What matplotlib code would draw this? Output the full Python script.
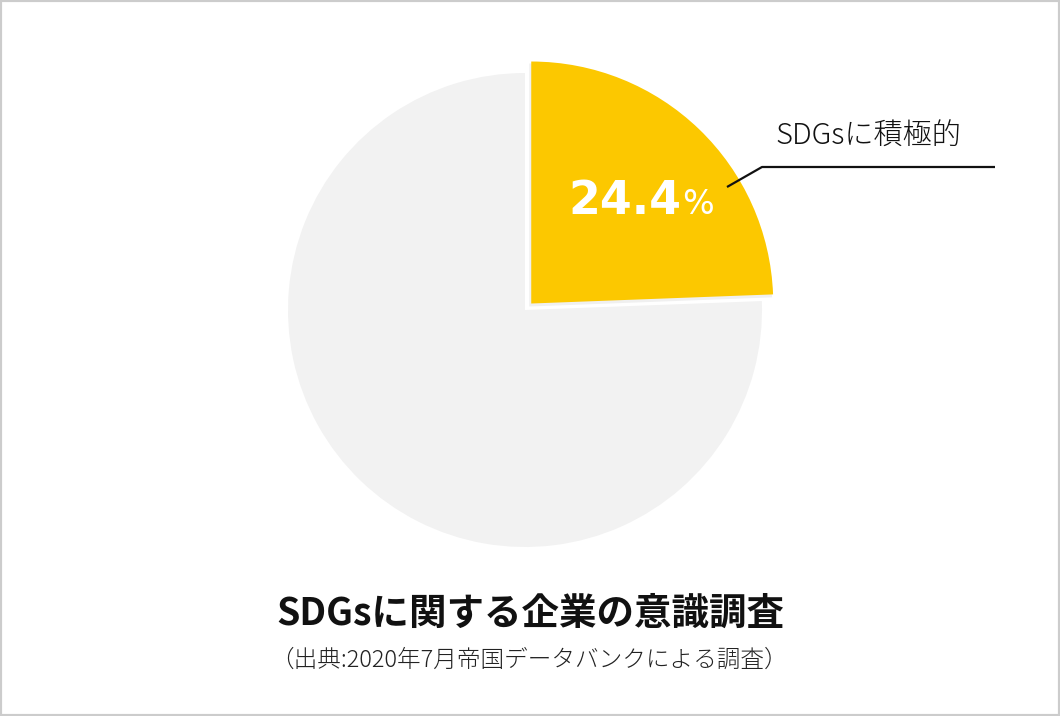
import numpy as np
import matplotlib.pyplot as plt
from matplotlib.patches import Wedge, Rectangle

plt.rcParams['font.family'] = ['Noto Sans CJK JP', 'DejaVu Sans']

# data
labels = ['SDGsに積極的', 'その他']
values = [24.4, 75.6]
colors = ['#FCC800', '#F2F2F2']
title = 'SDGsに関する企業の意識調査'
source = '（出典:2020年7月帝国データバンクによる調査）'

W, H = 1060, 716
fig = plt.figure(figsize=(W / 100, H / 100), dpi=100)
ax = fig.add_axes([0, 0, 1, 1])
ax.set_xlim(0, W)
ax.set_ylim(0, H)
ax.set_aspect('equal')
ax.axis('off')

cx, cy, r = 525, 406, 237
# angles from data, clockwise from 12 o'clock
fracs = np.array(values) / sum(values) * 360
start = 90
angles = []
for f in fracs:
    angles.append((start - f, start))
    start -= f

# big gray slice
t1, t2 = angles[1]
ax.add_patch(Wedge((cx, cy), r, t1, t2, facecolor=colors[1], edgecolor='none'))

# highlighted slice, pulled out a little and slightly larger
t1, t2 = angles[0]
mid = np.deg2rad((t1 + t2) / 2)
off = 9
hx, hy = cx + off * np.cos(mid), cy + off * np.sin(mid)
ax.add_patch(Wedge((hx - 2, hy - 3), 243, t1, t2, facecolor='#E6E6E6', edgecolor='none', alpha=0.6))
ax.add_patch(Wedge((hx, hy), 242, t1, t2, facecolor=colors[0], edgecolor='none'))

# percentage
ax.text(625, 515, f'{values[0]:.1f}', color='white', fontsize=33, fontweight='bold',
        family='DejaVu Sans', ha='center', va='center')
ax.text(698, 512, '%', color='white', fontsize=24, family='DejaVu Sans',
        ha='center', va='center')

# leader line + label
ax.plot([727, 762, 995], [H - 187, H - 167, H - 167], color='#111111', lw=1.6,
        solid_capstyle='butt')
ax.text(775, H - 137, labels[0], fontsize=21, color='#111111', fontweight='light',
        ha='left', va='center')

# titles
ax.text(530, H - 613, title, fontsize=27, fontweight='bold', color='#111111',
        ha='center', va='center')
ax.text(529, H - 660, source, fontsize=17, color='#222222', fontweight='light',
        ha='center', va='center')

fig.patches.append(Rectangle((0, 0), 1, 1, transform=fig.transFigure, fill=False,
                             edgecolor='#CCCCCC', linewidth=3))

fig.savefig('out.png', dpi=100)
